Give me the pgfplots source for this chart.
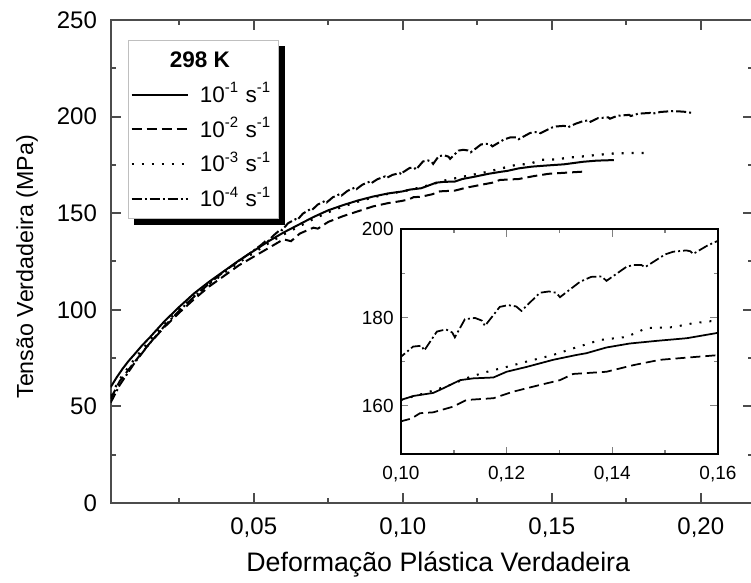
\documentclass[border=0pt]{standalone}
\usepackage{fontspec}
\setmainfont{Liberation Sans}
\usepackage{pgfplots}
\pgfplotsset{compat=1.18}
\usepackage{pgfplotstable}
\usetikzlibrary{backgrounds}

% 10^-1 s^-1
\pgfplotstableread{
x y
0.002 60
0.004 65
0.006 69.5
0.008 73.5
0.010 77
0.0125 81.5
0.015 85.5
0.020 94
0.025 101.5
0.030 108.5
0.035 114.5
0.040 120
0.045 125.5
0.050 130.5
0.055 135.5
0.060 140
0.065 144
0.070 148
0.075 151.5
0.080 154.2
0.085 156.6
0.090 158.6
0.095 160.2
0.100 161.3
0.1023 162.2
0.1061 162.9
0.1074 163.6
0.1112 165.8
0.1137 166.2
0.1175 166.4
0.1200 167.7
0.1238 168.8
0.1288 170.4
0.1332 171.5
0.1351 171.9
0.1389 173.2
0.1433 174.1
0.1484 174.7
0.1541 175.3
0.1604 176.6
0.1650 177.2
0.1708 177.5
}\rateA

% 10^-2 s^-1
\pgfplotstableread{
x y
0.002 54
0.005 63
0.010 73
0.015 82.5
0.020 91
0.025 98.5
0.030 105.5
0.035 112
0.040 117.5
0.045 123
0.050 127.5
0.055 132
0.060 136.5
0.0625 135.5
0.0655 139.5
0.070 142.5
0.0715 142
0.075 145.5
0.080 148.5
0.085 151
0.090 153.5
0.095 155.2
0.0995 156.3
0.1020 157.1
0.1036 158.3
0.1061 158.5
0.1099 159.8
0.1124 161.3
0.1175 161.7
0.1213 163.2
0.1263 164.7
0.1301 165.8
0.1326 167.2
0.1389 167.7
0.1440 169.2
0.1490 170.4
0.1541 170.9
0.1604 171.5
0.1610 171.6
}\rateB

% 10^-3 s^-1
\pgfplotstableread{
x y
0.002 55.5
0.005 64
0.010 74.5
0.015 84
0.020 92.5
0.025 100
0.030 107
0.035 113
0.040 119
0.045 124.5
0.050 129.5
0.055 134.5
0.060 139
0.065 143
0.070 147
0.075 150.5
0.080 153.5
0.085 156
0.090 158.2
0.095 160
0.100 161.3
0.1050 163
0.1093 164.7
0.1130 166.5
0.1160 167.6
0.1200 168.8
0.1238 170.0
0.1288 171.5
0.1326 173.0
0.1377 174.9
0.1427 175.6
0.1465 177.6
0.1515 177.8
0.1553 178.7
0.1604 179.4
0.1660 180.3
0.1708 180.9
0.1760 181.1
0.1810 181.2
}\rateC

% 10^-4 s^-1 (serrated)
\pgfplotstableread{
x y
0.002 52
0.005 61
0.010 72.5
0.015 82.5
0.020 91.5
0.025 99.5
0.030 106.8
0.035 113.5
0.040 119.8
0.045 125.3
0.050 130.7
0.0525 133.6
0.0540 135.6
0.0545 135.0
0.0565 138.3
0.0590 141.6
0.0595 141.2
0.0615 144.8
0.0640 146.9
0.0645 146.3
0.0665 149.8
0.0690 152.1
0.0695 151.6
0.0715 154.5
0.0740 156.4
0.0745 155.6
0.0765 158.2
0.0790 160.0
0.0795 159.2
0.0815 161.6
0.0840 163.3
0.0845 162.5
0.0865 164.8
0.0890 166.4
0.0895 165.6
0.0915 167.6
0.0940 169.0
0.0945 168.2
0.0965 169.8
0.0990 170.8
0.0995 170.0
0.1000 171.1
0.1023 173.4
0.1039 173.6
0.1044 172.5
0.1068 176.8
0.1085 177.3
0.1097 176.6
0.1102 175.5
0.1121 179.6
0.1140 179.9
0.1153 179.3
0.1159 178.1
0.1187 182.4
0.1203 182.8
0.1218 182.5
0.1228 181.5
0.1263 185.6
0.1280 185.9
0.1294 185.6
0.1301 184.6
0.1339 188.1
0.1360 189.2
0.1380 189.3
0.1389 188.3
0.1427 191.5
0.1440 191.9
0.1455 191.9
0.1462 191.4
0.1500 194.3
0.1515 194.9
0.1540 195.2
0.1548 195.0
0.1553 194.4
0.1580 196.3
0.1604 197.6
0.1625 198.1
0.1630 197.3
0.1655 199.2
0.1690 199.6
0.1695 198.9
0.1720 200.4
0.1760 200.9
0.1765 200.3
0.1790 201.5
0.1830 201.9
0.1835 201.4
0.1865 202.4
0.1900 202.8
0.1940 202.6
0.1971 201.9
}\rateD

\pgfplotsset{
  sA/.style={black, line width=0.8pt},
  sB/.style={black, line width=0.8pt, dash pattern=on 4pt off 2pt},
  sC/.style={black, line width=0.9pt, dash pattern=on 0.8pt off 3.2pt},
  sD/.style={black, line width=0.8pt, dash pattern=on 4pt off 1.2pt on 0.8pt off 1.2pt},
  commafmt/.style={
    /pgf/number format/fixed,
    /pgf/number format/fixed zerofill,
    /pgf/number format/precision=2,
    /pgf/number format/use comma},
}

\begin{document}
\begin{tikzpicture}
\begin{axis}[
  scale only axis,
  width=256.9pt, height=193.2pt,
  xmin=0.002, xmax=0.2175, ymin=0, ymax=250,
  xtick={0.05,0.10,0.15,0.20},
  minor xtick={0.025,0.075,0.125,0.175},
  ytick={0,50,100,150,200,250},
  minor ytick={25,75,125,175,225},
  tick align=inside,
  major tick length=4pt, minor tick length=2pt,
  axis line style={draw=black!70, line width=0.8pt},
  tick style={draw=black!70, line width=0.8pt},
  /pgf/number format/assume math mode=true,
  tick label style={font=\fontsize{9.6}{11}\selectfont},
  xticklabel style={commafmt, yshift=-2.5pt},
  yticklabel style={xshift=-2pt},
  xlabel={Deformação Plástica Verdadeira},
  ylabel={Tensão Verdadeira (MPa)},
  xlabel style={font=\fontsize{10.7}{12}\selectfont,
    at={(axis description cs:0.51,-0.128)}, anchor=center},
  ylabel style={font=\fontsize{9.3}{11}\selectfont,
    at={(axis description cs:-0.130,0.489)}, anchor=center},
  legend style={
    name=leg,
    at={(axis description cs:0.027,0.9586)}, anchor=north west,
    draw=black!25, line width=0.4pt, fill=white,
    font=\fontsize{9}{10}\selectfont,
    inner sep=0.8pt, column sep=2.4pt,
    nodes={text height=8.1pt, text depth=1.8pt, inner sep=2pt},
  },
  legend cell align=left,
  legend image code/.code={\draw[#1] (0pt,0pt) -- (22.4pt,0pt);},
]
\addlegendimage{empty legend}
\addlegendentry{\hspace{-12pt}\textbf{298 K}}
\addplot[sA] table {\rateA};
\addlegendentry{10\textsuperscript{-1} s\textsuperscript{-1}}
\addplot[sB] table {\rateB};
\addlegendentry{10\textsuperscript{-2} s\textsuperscript{-1}}
\addplot[sC] table {\rateC};
\addlegendentry{10\textsuperscript{-3} s\textsuperscript{-1}}
\addplot[sD] table {\rateD};
\addlegendentry{10\textsuperscript{-4} s\textsuperscript{-1}}
\end{axis}

\begin{pgfonlayer}{background}
\fill[black] ([xshift=2.4pt,yshift=-2.4pt]leg.south west)
  rectangle ([xshift=2.4pt,yshift=-2.4pt]leg.north east);
\end{pgfonlayer}

\begin{axis}[
  at={(116.1pt,19.5pt)}, anchor=south west,
  scale only axis,
  width=126.8pt, height=90pt,
  xmin=0.10, xmax=0.16, ymin=149, ymax=200,
  xtick={0.10,0.12,0.14,0.16},
  minor xtick={0.11,0.13,0.15},
  ytick={160,180,200},
  minor ytick={170,190},
  tick align=inside,
  major tick length=3pt, minor tick length=1.5pt,
  axis line style={line width=0.6pt},
  tick style={line width=0.6pt},
  axis background/.style={fill=white},
  /pgf/number format/assume math mode=true,
  tick label style={font=\fontsize{7.6}{9}\selectfont},
  xticklabel style={commafmt, yshift=-1.3pt},
  yticklabel style={xshift=0.6pt},
]
\addplot[sA, line width=0.7pt] table {\rateA};
\addplot[sB, line width=0.7pt] table {\rateB};
\addplot[sC, line width=0.8pt] table {\rateC};
\addplot[sD, line width=0.7pt] table {\rateD};
\end{axis}
\pgfresetboundingbox
\path[use as bounding box] (-44.28pt,-32pt) rectangle (256.12pt,201.2pt);
\end{tikzpicture}
\end{document}
